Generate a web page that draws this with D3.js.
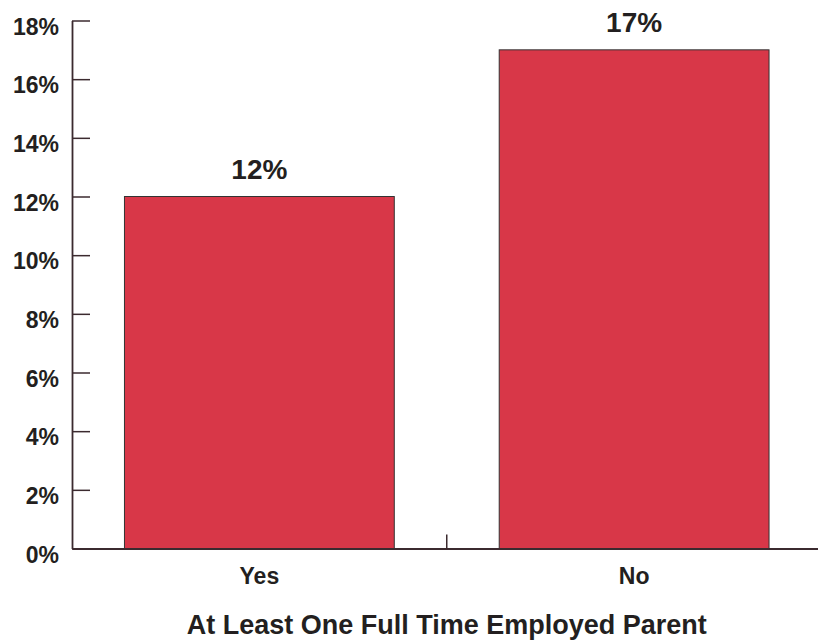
<!DOCTYPE html>
<html>
<head>
<meta charset="utf-8">
<script src="https://cdn.jsdelivr.net/npm/d3@7"></script>
<style>
  html, body { margin: 0; padding: 0; background: #fff; }
  svg { display: block; }
  text { font-family: "Liberation Sans", Arial, sans-serif; font-weight: bold; fill: #231f20; }
</style>
</head>
<body>
<svg id="chart" width="818" height="642"></svg>
<script>
const categories = ["Yes", "No"];
const values = [12, 17];
const yTicks = [0, 2, 4, 6, 8, 10, 12, 14, 16, 18];
const xTitle = "At Least One Full Time Employed Parent";

const svg = d3.select("#chart");
const axisColor = "#3b2a2f";

const y = d3.scaleLinear().domain([0, 18]).range([548.5, 20.5]);
const x = d3.scaleBand().domain(categories).range([72, 821.5]).paddingInner(0.28).paddingOuter(0.14);

// bars
svg.append("g").selectAll("rect")
  .data(categories)
  .join("rect")
  .attr("x", d => x(d))
  .attr("y", (d, i) => y(values[i]))
  .attr("width", x.bandwidth())
  .attr("height", (d, i) => y(0) - y(values[i]))
  .attr("fill", "#d83748")
  .attr("stroke", "#333")
  .attr("stroke-width", 1);

// value labels
svg.append("g").selectAll("text")
  .data(categories)
  .join("text")
  .attr("x", d => x(d) + x.bandwidth() / 2)
  .attr("y", (d, i) => y(values[i]) - 18)
  .attr("text-anchor", "middle")
  .style("font-size", "28px")
  .text((d, i) => values[i] + "%");

// y axis
const yAxis = svg.append("g")
  .attr("transform", "translate(72,0)")
  .call(d3.axisLeft(y).tickValues(yTicks).tickFormat(d => d + "%").tickSize(-18).tickSizeOuter(0).tickPadding(13));
yAxis.selectAll("text").style("font-size", "23px").attr("dy", "0.6em").attr("fill", "#231f20");
yAxis.selectAll("line").attr("stroke", axisColor).attr("stroke-width", 1.5);
yAxis.select(".domain").attr("stroke", axisColor).attr("stroke-width", 1.8);

// x axis
const xAxis = svg.append("g")
  .attr("transform", `translate(0,${y(0)})`)
  .call(d3.axisBottom(x).tickSize(0).tickPadding(19));
xAxis.selectAll("text").style("font-size", "23px").attr("fill", "#231f20");
xAxis.select(".domain").attr("stroke", axisColor).attr("stroke-width", 2);

// separator tick between categories
const sepX = (x(categories[0]) + x.bandwidth() + x(categories[1])) / 2;
svg.append("line")
  .attr("x1", sepX).attr("x2", sepX)
  .attr("y1", y(0)).attr("y2", y(0) - 14)
  .attr("stroke", axisColor).attr("stroke-width", 1.5);

// x title
svg.append("text")
  .attr("x", sepX)
  .attr("y", 634)
  .attr("text-anchor", "middle")
  .style("font-size", "27px")
  .text(xTitle);
</script>
</body>
</html>
